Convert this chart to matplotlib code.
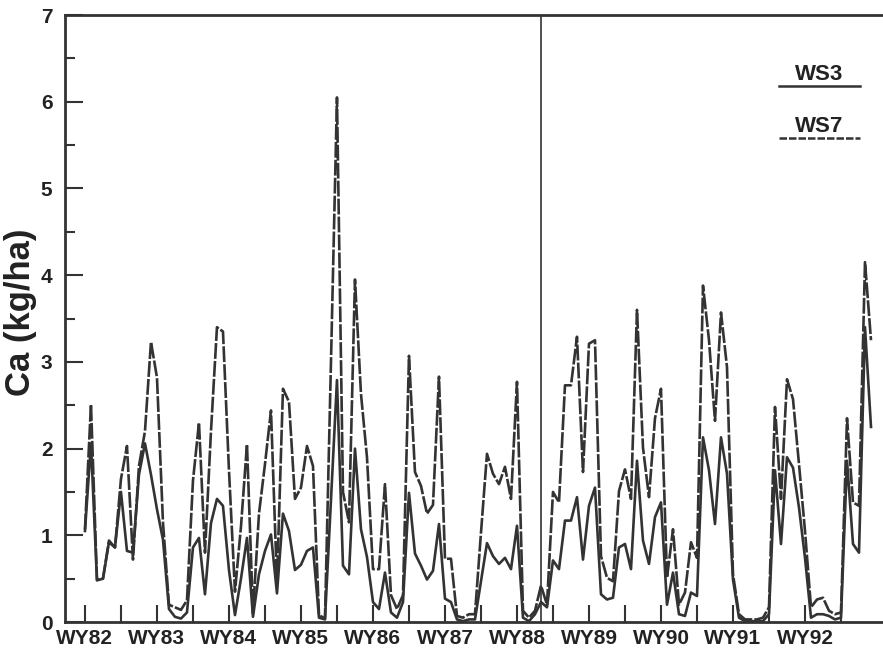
import matplotlib
matplotlib.use("Agg")
import matplotlib.pyplot as plt
import numpy as np

# monthly Ca export (kg/ha), Oct 1981 .. Sep 1992 (WY82 - WY92)
ws3 = [1.05, 2.06, 0.48, 0.50, 0.92, 0.86, 1.50, 0.82, 0.80, 1.70, 2.06, 1.70,
       1.30, 0.95, 0.15, 0.06, 0.04, 0.11, 0.86, 0.97, 0.32, 1.14, 1.42, 1.34,
       0.60, 0.08, 0.50, 0.97, 0.06, 0.55, 0.82, 1.01, 0.33, 1.25, 1.05, 0.60,
       0.66, 0.82, 0.86, 0.05, 0.03, 1.40, 2.79, 0.65, 0.55, 2.00, 1.07, 0.75,
       0.23, 0.15, 0.57, 0.11, 0.05, 0.23, 1.49, 0.79, 0.65, 0.49, 0.59, 1.13,
       0.27, 0.23, 0.03, 0.01, 0.03, 0.03, 0.47, 0.91, 0.76, 0.67, 0.74, 0.61,
       1.11, 0.05, 0.01, 0.09, 0.23, 0.17, 0.71, 0.61, 1.17, 1.17, 1.44, 0.72,
       1.34, 1.55, 0.32, 0.26, 0.28, 0.86, 0.90, 0.61, 1.86, 0.94, 0.67, 1.21,
       1.38, 0.20, 0.57, 0.09, 0.07, 0.34, 0.30, 2.13, 1.75, 1.13, 2.13, 1.71,
       0.49, 0.05, 0.01, 0.01, 0.01, 0.01, 0.09, 1.75, 0.90, 1.90, 1.78, 1.32,
       0.74, 0.05, 0.09, 0.09, 0.07, 0.03, 0.05, 1.86, 0.90, 0.80, 3.40, 2.25]
ws7 = [1.07, 2.51, 0.49, 0.50, 0.94, 0.86, 1.65, 2.03, 0.72, 1.80, 2.20, 3.23,
       2.82, 1.15, 0.20, 0.17, 0.14, 0.25, 1.63, 2.30, 0.80, 2.20, 3.40, 3.35,
       1.75, 0.35, 1.10, 2.05, 0.10, 1.25, 1.82, 2.44, 0.45, 2.69, 2.54, 1.42,
       1.55, 2.03, 1.80, 0.08, 0.04, 3.00, 6.05, 1.50, 1.15, 3.95, 2.63, 1.90,
       0.61, 0.61, 1.59, 0.31, 0.15, 0.31, 3.07, 1.73, 1.57, 1.25, 1.35, 2.83,
       0.73, 0.73, 0.07, 0.05, 0.09, 0.09, 1.03, 1.94, 1.71, 1.59, 1.79, 1.42,
       2.77, 0.13, 0.05, 0.13, 0.42, 0.20, 1.50, 1.38, 2.73, 2.73, 3.29, 1.73,
       3.21, 3.25, 0.76, 0.51, 0.47, 1.51, 1.76, 1.42, 3.60, 2.01, 1.44, 2.35,
       2.69, 0.51, 1.07, 0.20, 0.34, 0.92, 0.74, 3.88, 3.25, 2.32, 3.57, 2.94,
       0.55, 0.09, 0.03, 0.03, 0.03, 0.05, 0.17, 2.48, 1.42, 2.80, 2.57, 1.82,
       1.05, 0.17, 0.26, 0.28, 0.13, 0.09, 0.11, 2.35, 1.38, 1.34, 4.15, 3.25]
years = ['WY82', 'WY83', 'WY84', 'WY85', 'WY86', 'WY87', 'WY88',
         'WY89', 'WY90', 'WY91', 'WY92']
split_month = 76

plt.rcParams['font.family'] = ['Liberation Sans', 'DejaVu Sans']
plt.rcParams['font.weight'] = 'bold'
plt.rcParams['axes.labelweight'] = 'bold'

col = '#333333'
txt = '#222222'
months = np.arange(len(ws3))

fig = plt.figure(figsize=(8.83, 6.63), dpi=100)
ax = fig.add_axes([0.0736, 0.0618, 0.9264, 0.9155])

ax.plot(months, ws3, color=col, lw=1.9)
ax.plot(months, ws7, color=col, lw=1.9, ls=(0, (6, 0.8)))
ax.axvline(split_month, color=col, lw=1.2)

ax.set_xlim(-3.33, 133)
ax.set_ylim(0, 7)

ax.set_xticks(np.arange(0, 132, 12))
ax.set_xticklabels(years)
ax.set_xticks(np.arange(6, 132, 12), minor=True)
ax.set_yticks(np.arange(0, 8, 1))
ax.set_yticks(np.arange(0.5, 7, 1), minor=True)

ax.tick_params(axis='x', which='both', direction='in', length=12, width=1.5,
               colors=col, labelsize=15, pad=5)
ax.tick_params(axis='y', which='major', direction='in', length=13, width=1.5,
               colors=col, labelsize=15, pad=9)
ax.tick_params(axis='y', which='minor', direction='in', length=7, width=1.5,
               colors=col)
for lab in ax.get_xticklabels() + ax.get_yticklabels():
    lab.set_color(txt)
    lab.set_fontweight('bold')

for s in ['left', 'bottom', 'top']:
    ax.spines[s].set_linewidth(2)
    ax.spines[s].set_color(col)
ax.spines['right'].set_visible(False)

ax.set_ylabel('Ca (kg/ha)', fontsize=25, color=txt)
ax.yaxis.set_label_coords(-0.034, 0.51)

# legend drawn by hand: label above a short line sample
ax.text(0.922, 0.893, 'WS3', transform=ax.transAxes, ha='center',
        va='baseline', fontsize=16, color=txt)
ax.plot([0.873, 0.972], [0.883, 0.883], transform=ax.transAxes, color=col,
        lw=1.8)
ax.text(0.922, 0.807, 'WS7', transform=ax.transAxes, ha='center',
        va='baseline', fontsize=16, color=txt)
ax.plot([0.873, 0.972], [0.797, 0.797], transform=ax.transAxes, color=col,
        lw=1.8, ls=(0, (3, 0.8)))

fig.savefig('out.png', dpi=100)
